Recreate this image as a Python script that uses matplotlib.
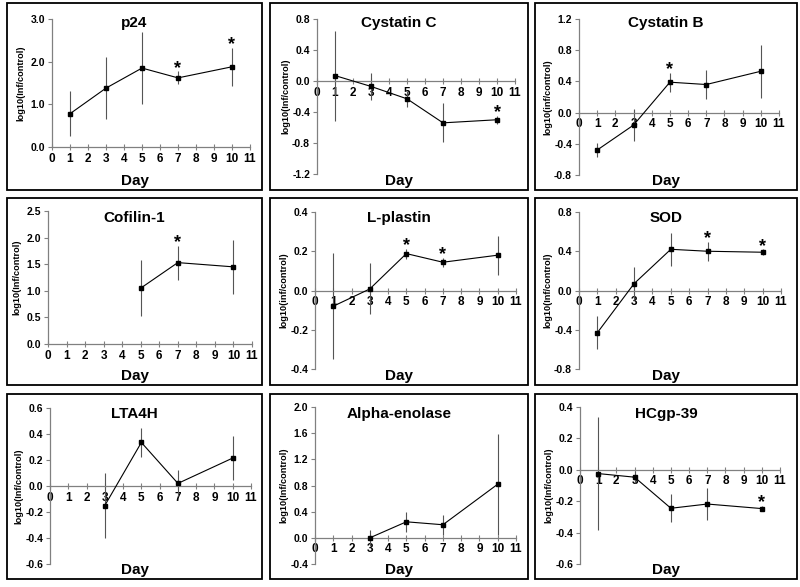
import numpy as np
import matplotlib
matplotlib.use("Agg")
import matplotlib.pyplot as plt
from matplotlib.patches import Rectangle

plt.rcParams['font.family'] = ['Liberation Sans', 'DejaVu Sans']
plt.rcParams['font.weight'] = 'bold'
plt.rcParams['axes.unicode_minus'] = False

# data: day, mean log10(inf/control), error, significant days
p24_days = [1, 3, 5, 7, 10]
p24_mean = [0.78, 1.38, 1.85, 1.62, 1.88]
p24_err = [0.53, 0.72, 0.84, 0.15, 0.44]
p24_star = [7, 10]

cysc_days = [1, 3, 5, 7, 10]
cysc_mean = [0.07, -0.07, -0.23, -0.54, -0.50]
cysc_err = [0.58, 0.17, 0.10, 0.25, 0.05]
cysc_star = [10]

cysb_days = [1, 3, 5, 7, 10]
cysb_mean = [-0.48, -0.16, 0.39, 0.36, 0.53]
cysb_err = [0.085, 0.20, 0.12, 0.19, 0.34]
cysb_star = [5]

cof_days = [5, 7, 10]
cof_mean = [1.05, 1.53, 1.45]
cof_err = [0.52, 0.32, 0.51]
cof_star = [7]

lpl_days = [1, 3, 5, 7, 10]
lpl_mean = [-0.08, 0.008, 0.188, 0.144, 0.18]
lpl_err = [0.27, 0.13, 0.025, 0.022, 0.10]
lpl_star = [5, 7]

sod_days = [1, 3, 5, 7, 10]
sod_mean = [-0.43, 0.07, 0.42, 0.40, 0.39]
sod_err = [0.17, 0.17, 0.17, 0.095, 0.03]
sod_star = [7, 10]

lta_days = [3, 5, 7, 10]
lta_mean = [-0.15, 0.335, 0.02, 0.215]
lta_err = [0.25, 0.11, 0.10, 0.17]
lta_star = []

eno_days = [3, 5, 7, 10]
eno_mean = [0.0, 0.245, 0.20, 0.82]
eno_err = [0.125, 0.15, 0.15, 0.77]
eno_star = []

hc_days = [1, 3, 5, 7, 10]
hc_mean = [-0.024, -0.047, -0.245, -0.218, -0.247]
hc_err = [0.36, 0.04, 0.09, 0.10, 0.018]
hc_star = [10]

W, H = 800, 587
fig = plt.figure(figsize=(8, 5.87), dpi=100)

def px_rect(l, t, r, b):
    return [l / W, 1 - b / H, (r - l) / W, (b - t) / H]

boxes = [(7, 3, 262, 190), (270, 3, 528, 190), (535, 3, 797, 190),
         (7, 198, 262, 385), (270, 198, 528, 385), (535, 198, 797, 385),
         (7, 394, 262, 579), (270, 394, 528, 579), (535, 394, 797, 579)]
axes_px = [(52, 19, 250, 147), (317, 19, 515, 174), (579, 19, 779, 175),
           (48, 211, 252, 344), (315, 212, 516, 369), (579, 212, 781, 369),
           (50, 408, 251, 564), (315, 407, 516, 564), (580, 407, 780, 564)]

panels = [
    ("p24", p24_days, p24_mean, p24_err, p24_star, (0, 3.0, 1.0), "log10(Inf/control)"),
    ("Cystatin C", cysc_days, cysc_mean, cysc_err, cysc_star, (-1.2, 0.8, 0.4), "log10(Inf/control)"),
    ("Cystatin B", cysb_days, cysb_mean, cysb_err, cysb_star, (-0.8, 1.2, 0.4), "log10(inf/control)"),
    ("Cofilin-1", cof_days, cof_mean, cof_err, cof_star, (0, 2.5, 0.5), "log10(Inf/control)"),
    ("L-plastin", lpl_days, lpl_mean, lpl_err, lpl_star, (-0.4, 0.4, 0.2), "log10(inf/control)"),
    ("SOD", sod_days, sod_mean, sod_err, sod_star, (-0.8, 0.8, 0.4), "log10(Inf/control)"),
    ("LTA4H", lta_days, lta_mean, lta_err, lta_star, (-0.6, 0.6, 0.2), "log10(Inf/control)"),
    ("Alpha-enolase", eno_days, eno_mean, eno_err, eno_star, (-0.4, 2.0, 0.4), "log10(Inf/control)"),
    ("HCgp-39", hc_days, hc_mean, hc_err, hc_star, (-0.6, 0.4, 0.2), "log10(Inf/control)"),
]

grey = '#808080'
for (name, days, mean, err, stars, (y0, y1, ystep), ylab), box, apx in zip(panels, boxes, axes_px):
    l, t, r, b = box
    fig.add_artist(Rectangle((l / W, 1 - b / H), (r - l) / W, (b - t) / H,
                             transform=fig.transFigure, fill=False,
                             edgecolor='black', linewidth=1.3))
    ax = fig.add_axes(px_rect(*apx))
    ax.set_facecolor('none')
    ax.errorbar(days, mean, yerr=err, fmt='none', ecolor='#555555',
                elinewidth=0.8, capsize=0, zorder=2)
    ax.plot(days, mean, color='black', linewidth=0.8, marker='s',
            markersize=2.2, zorder=3)
    for d in stars:
        i = days.index(d)
        ax.annotate('*', (d, mean[i] + err[i]), xytext=(0, -1),
                    textcoords='offset points', ha='center', va='baseline',
                    fontsize=13, fontweight='bold')
    ax.set_xlim(0, 11)
    ax.set_ylim(y0, y1)
    ax.set_xticks(range(12))
    ax.set_yticks(np.arange(y0, y1 + ystep / 2, ystep))
    ax.yaxis.set_major_formatter(matplotlib.ticker.FormatStrFormatter('%.1f'))
    for s in ['top', 'right']:
        ax.spines[s].set_visible(False)
    for s in ['left', 'bottom']:
        ax.spines[s].set_color(grey)
        ax.spines[s].set_linewidth(0.9)
    ax.spines['bottom'].set_position(('data', 0))
    ax.tick_params(axis='x', direction='inout', length=4, width=0.8,
                   color=grey, labelsize=8.5, pad=2)
    ax.tick_params(axis='y', direction='out', length=3, width=0.8,
                   color=grey, labelsize=7.5, pad=2)
    for lab in ax.get_xticklabels() + ax.get_yticklabels():
        lab.set_fontweight('bold')
    cx = (l + r) / 2 / W
    fig.text(cx, 1 - (t + 20) / H, name, ha='center', va='center',
             fontsize=11, fontweight='bold')
    fig.text(cx, 1 - (b - 9) / H, 'Day', ha='center', va='center',
             fontsize=11, fontweight='bold')
    fig.text((apx[0] - 31) / W, 1 - (apx[1] + apx[3]) / 2 / H, ylab,
             rotation=90, ha='center', va='center', fontsize=6.6,
             fontweight='bold')

fig.savefig('out.png', dpi=100)
